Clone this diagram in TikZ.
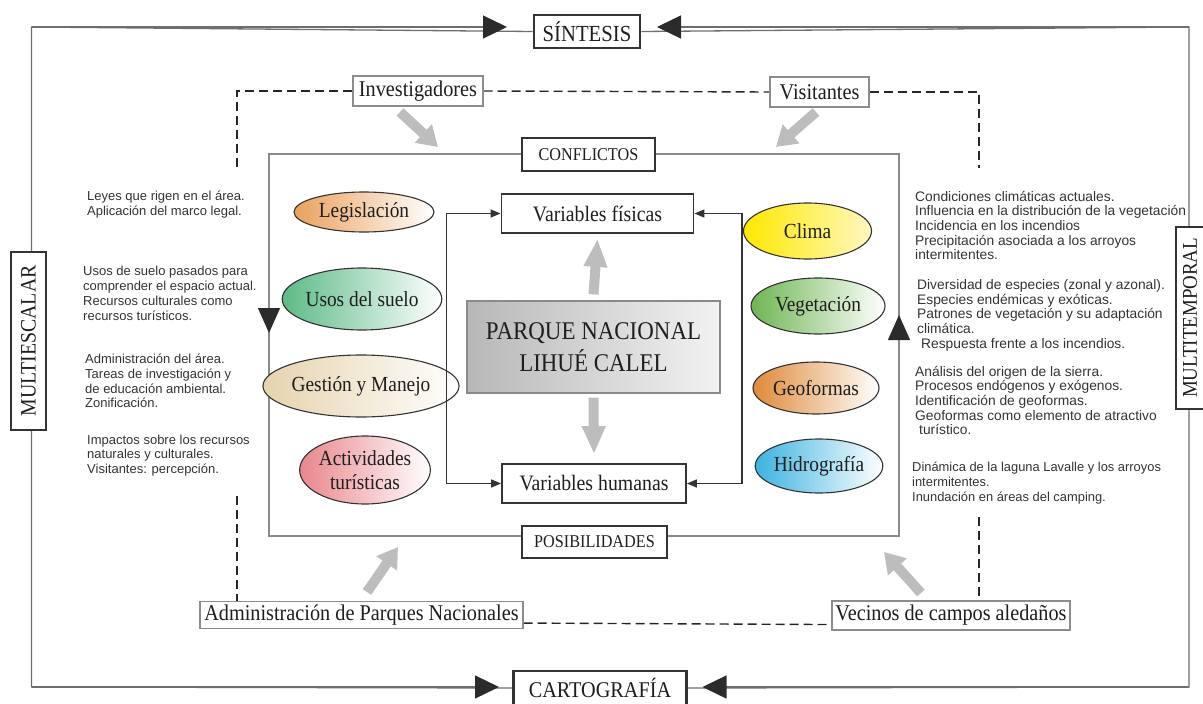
\documentclass[tikz,border=0pt]{standalone}
\usepackage{fontspec}
\setmainfont{Liberation Serif}[FakeStretch=0.9]
\newfontfamily\sansf{Liberation Sans}
\usetikzlibrary{arrows.meta,shapes.geometric,backgrounds}
\newcommand\myfs[2]{\fontsize{#1}{#2}\selectfont}
\definecolor{framegray}{HTML}{6E6E6E}
\definecolor{innergray}{HTML}{8A8A8A}
\definecolor{darkline}{HTML}{333333}
\definecolor{boxline}{HTML}{8C8C8C}
\definecolor{tridark}{HTML}{2B2B2B}
\definecolor{arrgray}{HTML}{BDBDBD}
\definecolor{txt}{HTML}{1E1E1E}
\definecolor{sanstxt}{HTML}{333333}
\definecolor{legc}{HTML}{E9A15C}
\definecolor{usoc}{HTML}{5DBA86}
\definecolor{gesc}{HTML}{E6D3AE}
\definecolor{actc}{HTML}{E9868C}
\definecolor{climc}{HTML}{FFE800}
\definecolor{climr}{HTML}{FFF8C0}
\definecolor{vegc}{HTML}{6FB553}
\definecolor{geoc}{HTML}{DF8A3A}
\definecolor{hidc}{HTML}{3CB3E0}
\begin{document}
\begin{tikzpicture}[x=1pt,y=-1pt,
  thickbox/.style={draw=darkline, line width=2.6pt, fill=white, inner sep=0pt, text=txt, font=\myfs{23}{27}},
  lblbox/.style={draw=boxline, line width=1.1pt, fill=white, inner sep=0pt, text=txt, font=\myfs{22.5}{27}},
  varbox/.style={draw=darkline, line width=1.8pt, fill=white, inner sep=0pt, text=txt, font=\myfs{22}{26}},
  capbox/.style={draw=darkline, line width=1.4pt, fill=white, inner sep=0pt, text=txt, font=\myfs{18}{22}},
  oval/.style={ellipse, draw=darkline, line width=1.1pt, inner sep=0pt, text=txt, align=center, font=\myfs{21.5}{24}},
  sanstext/.style={anchor=north west, inner sep=0pt, align=left, text=sanstxt},
  frameline/.style={draw=framegray, line width=1.3pt},
  innerline/.style={draw=innergray, line width=1.3pt},
  dashline/.style={draw=black!85, line width=1.4pt, dash pattern=on 9pt off 5pt},
  conn/.style={draw=darkline, line width=1.6pt, {Triangle[length=10pt,width=8pt]}-{Triangle[length=10pt,width=8pt]}},
  bigarr/.style={draw=arrgray, line width=10pt, -{Triangle[length=20pt,width=24pt]}},
  vertarr/.style={draw=arrgray, line width=10pt, -{Triangle[length=28pt,width=22pt]}},
  bigtri/.style={-{Triangle[length=24pt,width=23pt,color=tridark]}}
]
\useasboundingbox (0,0) rectangle (1203,704);

% outer frame corners and arrow tips
\coordinate (tl) at (31.5,27);
\coordinate (tr) at (1189,27);
\coordinate (bl) at (31.5,687);
\coordinate (br) at (1189,687);
\coordinate (tipa) at (507,27);
\coordinate (tipb) at (657,27);
\coordinate (tipc) at (499,687);
\coordinate (tipd) at (702.5,687);
% inner rectangle
\coordinate (itl) at (269,154);
\coordinate (ibr) at (899,536);
\coordinate (ltri) at (269,333);
\coordinate (rtri) at (899,315);
% dashed ends
\coordinate (lda) at (237,170);
\coordinate (ldb) at (237,496);
\coordinate (rda) at (979,168);
\coordinate (rdb) at (979,517);
% connector buses
\coordinate (lbus) at (446.5,300);
\coordinate (rbus) at (742,300);
% gray diagonal arrows
\coordinate (gia) at (400,112);
\coordinate (gib) at (438,147);
\coordinate (gva) at (816,112);
\coordinate (gvb) at (776,147);
\coordinate (gaa) at (367,592);
\coordinate (gab) at (398,547);
\coordinate (gna) at (921,593);
\coordinate (gnb) at (884,552);

% title boxes
\node[thickbox, minimum width=106, minimum height=33] (sint) at (587,31.5) {SÍNTESIS};
\node[thickbox, minimum width=173, minimum height=34, font=\myfs{22.5}{27}] (carto) at (600,688) {CARTOGRAFÍA};
\node[thickbox, rotate=90, minimum width=178, minimum height=35, font=\myfs{22}{26}] (mesc) at (28.5,341) {MULTIESCALAR};
\node[thickbox, rotate=90, minimum width=182, minimum height=28, font=\myfs{21}{25}] (mtemp) at (1190,318) {MULTITEMPORAL};

% actor boxes
\node[lblbox, minimum width=130, minimum height=30] (inv) at (418,91) {Investigadores};
\node[lblbox, minimum width=99, minimum height=30] (vis) at (819.5,92) {Visitantes};
\node[lblbox, minimum width=323, minimum height=27] (adm) at (361.5,615) {Administración de Parques Nacionales};
\node[lblbox, minimum width=238, minimum height=29] (vec) at (951,615.5) {Vecinos de campos aledaños};

% conflict / possibilities
\node[capbox, minimum width=133, minimum height=33] (confl) at (588.5,154.5) {CONFLICTOS};
\node[capbox, minimum width=145, minimum height=32] (posib) at (594.5,542) {POSIBILIDADES};

% variables
\node[varbox, minimum width=192, minimum height=39] (vfis) at (597.5,213.5) {Variables físicas};
\node[varbox, minimum width=184, minimum height=39] (vhum) at (594,483.5) {Variables humanas};

% park
\node[draw=innergray, line width=1.2pt, left color=black!28, right color=black!5, inner sep=0pt,
      minimum width=253, minimum height=92, align=center, text=txt, font=\myfs{25.5}{32}] (parque) at (593.5,347) {PARQUE NACIONAL\\LIHUÉ CALEL};

% ellipses left
\node[oval, left color=legc, right color=white, minimum width=140, minimum height=40] (leg) at (364,212) {Legislación};
\node[oval, left color=usoc, right color=white, minimum width=148, minimum height=62] (usos) at (362,299) {Usos del suelo};
\node[oval, left color=gesc, right color=white, minimum width=156, minimum height=62] (ges) at (361,386) {Gestión y Manejo};
\node[oval, left color=actc, right color=white, minimum width=124, minimum height=68] (act) at (365,470) {Actividades\\turísticas};
% ellipses right
\node[oval, left color=climc, right color=climr, minimum width=128, minimum height=56] (clima) at (807.5,231) {Clima};
\node[oval, left color=vegc, right color=white, minimum width=134, minimum height=56] (veg) at (818,306) {Vegetación};
\node[oval, left color=geoc, right color=white, minimum width=126, minimum height=52] (geo) at (816,388) {Geoformas};
\node[oval, left color=hidc, right color=white, minimum width=112, minimum height=54] (hid) at (819,466) {Hidrografía};

% left texts
\node[sanstext, font=\sansf\myfs{13}{15}] (ta) at (87,191) {Leyes que rigen en el área.\\Aplicación del marco legal.};
\node[sanstext, font=\sansf\myfs{13}{15}] (tb) at (83,266) {Usos de suelo pasados para\\comprender el espacio actual.\\Recursos culturales como\\recursos turísticos.};
\node[sanstext, font=\sansf\myfs{13}{14.7}] (tc) at (85,354) {Administración del área.\\Tareas de investigación y\\de educación ambiental.\\Zonificación.};
\node[sanstext, font=\sansf\myfs{13}{14.2}] (td) at (87,435) {Impactos sobre los recursos\\naturales y culturales.\\Visitantes: percepción.};
% right texts
\node[sanstext, font=\sansf\myfs{13.8}{14.6}] (te) at (915,191) {Condiciones climáticas actuales.\\Influencia en la distribución de la vegetación\\Incidencia en los incendios\\Precipitación asociada a los arroyos\\intermitentes.};
\node[sanstext, font=\sansf\myfs{13.8}{14.8}] (tf) at (917,279) {Diversidad de especies (zonal y azonal).\\Especies endémicas y exóticas.\\Patrones de vegetación y su adaptación\\climática.\\\hspace*{4pt}Respuesta frente a los incendios.};
\node[sanstext, font=\sansf\myfs{13.8}{14.6}] (tg) at (915,366) {Análisis del origen de la sierra.\\Procesos endógenos y exógenos.\\Identificación de geoformas.\\Geoformas como elemento de atractivo\\\hspace*{4pt}turístico.};
\node[sanstext, font=\sansf\myfs{12.9}{15}] (th) at (912,462) {Dinámica de la laguna Lavalle y los arroyos\\intermitentes.\\Inundación en áreas del camping.};

% connectors between variables
\draw[conn] (vfis.west) -- (vfis.west -| lbus) -- (vhum.west -| lbus) -- (vhum.west);
\draw[conn] (vfis.east) -- (vfis.east -| rbus) -- (vhum.east -| rbus) -- (vhum.east);

% central gray arrows
\draw[vertarr] ([yshift=6pt]parque.north) -- ([yshift=-5pt]vfis.south);
\draw[vertarr] ([yshift=-4pt]parque.south) -- ([yshift=9pt]vhum.north);
% diagonal gray arrows
\draw[bigarr] (gia) -- (gib);
\draw[bigarr] (gva) -- (gvb);
\draw[bigarr] (gaa) -- (gab);
\draw[bigarr] (gna) -- (gnb);

\begin{pgfonlayer}{background}
  % outer frame
  \draw[frameline] (sint.west) -- (tl) -- (bl) -- (carto.west);
  \draw[frameline] (sint.east) -- (tr) -- (br) -- (carto.east);
  \draw[frameline, bigtri] (tl) -- (tipa);
  \draw[frameline, bigtri] (tr) -- (tipb);
  \draw[frameline, bigtri] (bl) -- (tipc);
  \draw[frameline, bigtri] (br) -- (tipd);
  % inner frame
  \draw[innerline] (itl) rectangle (ibr);
  \draw[innerline, -{Triangle[length=25pt,width=22pt,color=tridark]}] (itl) -- (ltri);
  \draw[innerline, -{Triangle[length=25pt,width=22pt,color=tridark]}] (ibr) -- (rtri);
  % dashed links
  \draw[dashline] (inv.west) -| (lda);
  \draw[dashline] (inv.east) -- (vis.west);
  \draw[dashline] (vis.east) -| (rda);
  \draw[dashline] (ldb) -- (ldb |- adm.north);
  \draw[dashline] (rdb) -- (rdb |- vec.north);
  \draw[dashline] ([yshift=6pt]adm.south east) -- ([yshift=6pt]vec.south west);
\end{pgfonlayer}
\end{tikzpicture}
\end{document}
